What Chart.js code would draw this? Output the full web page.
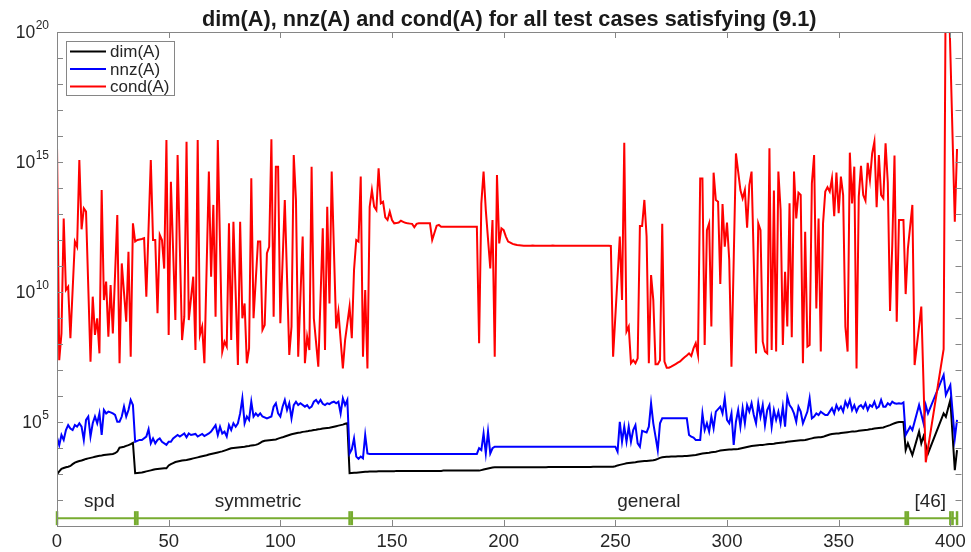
<!DOCTYPE html>
<html lang="en">
<head>
<meta charset="UTF-8">
<title>dim(A), nnz(A) and cond(A)</title>
<script src="https://cdn.jsdelivr.net/npm/chart.js"></script>
<style>
  html, body { margin: 0; padding: 0; background: #fff; }
</style>
</head>
<body>
<canvas id="chart" width="971" height="552"></canvas>
<script>
// log10 of each quantity, one entry per test case (index 0..403).
// null = no separate vertex visible, the line runs straight through.
const condLog = [
  /*0*/   15.65, 7.38, 8.41, 12.83, 10.08, 10.2, 8.22, null, 11.94, 11.74,
  /*10*/  15.08, 12.41, 13.22, 13.09, null, 7.32, 9.82, 8.35, 8.99, 7.64,
  /*20*/  13.92, 9.69, 10.4, 8.28, 10.27, 8.41, null, 12.96, 7.26, 11.1,
  /*30*/  null, 8.86, 11.55, 7.51, 12.64, 11.94, 12.0, 12.02, 12.04, 12.07,
  /*40*/  9.82, null, 15.08, 12.0, 12.0, 9.18, 12.2, 12.0, 10.9, 15.85,
  /*50*/  8.35, 14.24, null, 8.92, 15.27, null, 8.15, 9.05, 15.78, 8.92,
  /*60*/  null, 10.59, 7.77, 15.85, 8.35, 8.67, 7.26, null, 14.63, 10.59,
  /*70*/  13.35, 9.05, 15.85, null, 7.71, 8.09, 7.9, 12.64, 8.15, 12.7,
  /*80*/  null, 7.19, 12.7, 8.99, 9.56, 7.26, 7.83, 14.37, 8.99, null,
  /*90*/  11.94, 11.94, 8.54, 8.73, 11.49, 11.74, 15.87, 9.05, 14.82, 14.82,
  /*100*/ 8.8, null, 13.54, null, 7.58, 8.67, 15.27, 13.54, 7.51, null,
  /*110*/ 12.13, 7.26, 8.28, 7.77, 14.82, 8.99, null, 7.13, null, 12.45,
  /*120*/ 7.77, 13.28, 9.56, 14.63, null, 8.6, 9.24, null, 7.06, 8.15,
  /*130*/ null, 9.44, 8.22, 10.85, 12.0, 11.94, 14.44, 7.51, 10.08, 7.06,
  /*140*/ 13.28, 13.92, 13.28, 13.15, 14.76, 13.41, 13.47, 12.87, 12.77, 13.09,
  /*150*/ 12.77, 12.64, 12.65, 12.67, 12.74, 12.7, 12.66, 12.64, 12.63, 12.62,
  /*160*/ 12.49, 12.62, 12.64, 12.64, 12.64, 12.64, 12.64, 12.64, 12.0, null,
  /*170*/ 12.55, 12.58, 12.51, 12.51, 12.51, 12.51, 12.51, 12.51, 12.51, 12.51,
  /*180*/ 12.51, 12.51, 12.51, 12.51, 12.51, 12.51, 12.51, 12.51, 12.51, 8.03,
  /*190*/ 13.41, 14.63, 13.15, null, 10.91, 12.77, 7.51, 14.5, 11.87, 12.45,
  /*200*/ 12.38, 12.13, 11.94, 11.9, 11.85, 11.83, 11.81, 11.8, 11.79, 11.78,
  /*210*/ 11.78, 11.78, 11.78, 11.79, 11.78, 11.78, 11.78, 11.78, 11.78, 11.78,
  /*220*/ 11.78, 11.78, 11.79, 11.78, 11.78, 11.78, 11.78, 11.78, 11.78, 11.78,
  /*230*/ 11.78, 11.78, 11.78, 11.78, 11.78, 11.78, 11.78, 11.78, 11.78, 11.78,
  /*240*/ 11.78, 11.78, 11.78, 11.78, 11.78, 11.78, 11.78, 11.78, 11.77, 7.51,
  /*250*/ null, null, 12.13, 9.69, 15.74, 8.48, 8.67, 7.26, 7.38, 7.26,
  /*260*/ 7.45, 12.54, 12.54, 13.54, 12.13, 7.26, 10.65, 9.69, 7.22, 7.22,
  /*270*/ 7.38, 12.62, 7.32, 7.09, 7.09, 7.13, 7.18, 7.23, 7.28, 7.33,
  /*280*/ 7.41, 7.49, 7.56, 7.64, 7.54, 7.83, 8.03, 7.58, 14.37, 14.37,
  /*290*/ 7.96, 12.38, 12.64, 8.67, 14.59, 13.54, 13.47, 10.31, 13.38, 11.74,
  /*300*/ 12.67, 11.23, 7.13, null, 15.33, 14.63, 13.92, 13.6, 13.92, 12.47,
  /*310*/ 14.12, 14.63, null, 7.64, 12.64, 12.38, 8.09, 7.71, 7.64, 15.53,
  /*320*/ 7.77, 13.9, 7.71, 14.63, 13.15, 7.96, 10.78, 8.67, 13.41, 8.26,
  /*330*/ 14.63, 12.83, 13.82, 13.73, 7.26, 12.32, 7.9, 7.96, 14.18, 15.27,
  /*340*/ 9.37, 12.83, 7.71, 12.64, 13.86, 14.03, 13.86, 14.37, 12.92, 14.59,
  /*350*/ 13.03, 14.44, 13.73, 8.67, 7.71, 15.36, 13.41, 14.82, 7.06, 13.67,
  /*360*/ 14.85, 13.73, 13.51, 14.97, 14.31, 15.33, 15.78, 13.26, 15.27, 13.73,
  /*370*/ 13.6, 15.72, 14.2, 9.27, 11.8, 15.25, 8.86, 12.77, 12.77, 12.77,
  /*380*/ 9.92, 11.68, null, 13.35, 7.19, null, null, 9.44, null, 3.45,
  /*390*/ null, null, null, null, null, null, null, 7.8, 23, 22.5,
  /*400*/ null, null, 12.7, 15.5
];

const nnzLog = [
  /*0*/   4.41, 4.11, 4.5, 4.31, 4.69, 4.88, 4.75, 4.69, 4.88, 4.82,
  /*10*/  4.95, 4.82, 4.31, 5.08, 5.21, 4.44, 4.95, 5.21, 4.95, 5.33,
  /*20*/  4.5, 5.46, 5.33, 5.4, 5.37, 5.33, 5.27, 5.01, 5.01, 5.21,
  /*30*/  5.59, 5.21, 5.46, 5.85, 5.65, 4.24, null, 4.31, 4.31, null,
  /*40*/  4.44, 4.72, 4.18, 4.37, 4.18, 4.31, 4.37, 4.24, null, 4.12,
  /*50*/  4.24, 4.24, 4.37, null, 4.5, 4.44, null, 4.56, 4.41, 4.56,
  /*60*/  4.5, null, 4.54, 4.44, null, 4.54, 4.46, null, 4.56, 4.63,
  /*70*/  null, 4.88, 4.5, 4.82, 4.56, 4.63, 4.44, 4.88, 4.69, 4.95,
  /*80*/  4.82, 4.95, 5.33, 5.91, 4.95, 5.21, 5.08, 5.78, 5.21, 5.33,
  /*90*/  5.23, 5.33, 5.21, null, 5.14, null, 5.21, 5.59, 5.72, 5.33,
  /*100*/ 5.21, 5.59, 5.85, 5.46, 5.72, 5.14, 5.65, 5.78, 5.65, 5.72,
  /*110*/ null, 5.59, 5.65, 5.53, 5.59, 5.78, 5.85, 5.72, 5.85, 5.7,
  /*120*/ 5.65, 5.72, 5.69, 5.75, 5.78, 5.72, 5.78, 5.33, 5.91, 5.65,
  /*130*/ 5.85, 3.79, 3.95, 4.37, 3.67, 3.58, 3.67, 3.6, 4.5, 3.79,
  /*140*/ 3.77, 3.77, 3.77, 3.77, 3.77, 3.77, 3.77, 3.77, 3.77, 3.77,
  /*150*/ 3.77, 3.77, 3.77, 3.77, 3.77, 3.77, 3.77, 3.77, 3.77, 3.77,
  /*160*/ 3.77, 3.77, 3.77, 3.77, 3.77, 3.77, 3.77, 3.77, 3.77, 3.77,
  /*170*/ 3.77, 3.77, 3.77, 3.77, 3.77, 3.77, 3.77, 3.77, 3.77, 3.77,
  /*180*/ 3.77, 3.77, 3.77, 3.77, 3.77, 3.77, 3.77, 3.77, 3.77, 3.99,
  /*190*/ 3.92, 4.56, 3.79, 4.63, 3.79, 3.99, 4.05, 4.05, 4.05, 4.05,
  /*200*/ 4.05, 4.05, 4.05, 4.05, 4.05, 4.05, 4.05, 4.05, 4.05, 4.05,
  /*210*/ 4.05, 4.05, 4.05, 4.05, 4.05, 4.05, 4.05, 4.05, 4.05, 4.05,
  /*220*/ 4.05, 4.05, 4.05, 4.05, 4.05, 4.05, 4.05, 4.05, 4.05, 4.05,
  /*230*/ 4.05, 4.05, 4.05, 4.05, 4.05, 4.05, 4.05, 4.05, 4.05, 4.05,
  /*240*/ 4.05, 4.05, 4.05, 4.05, 4.05, 4.05, 4.05, 4.05, 4.05, 4.05,
  /*250*/ 4.05, 3.86, 5.01, 4.24, 4.82, 4.24, 4.82, 4.24, 4.69, 4.88,
  /*260*/ 4.18, 4.05, 4.66, null, 4.6, 4.82, 5.72, 4.95, 4.44, 3.92,
  /*270*/ 4.95, 5.14, 5.14, 5.14, 5.14, 5.14, 5.14, 5.14, 5.14, 5.14,
  /*280*/ 5.14, 5.14, 5.14, 4.5, 4.44, 4.4, 4.31, 4.31, 4.31, 5.33,
  /*290*/ 4.69, 4.95, 4.63, 5.21, 4.76, 5.4, null, 5.59, 5.33, 5.91,
  /*300*/ 5.08, 4.95, 5.33, 4.12, 5.01, 5.46, 4.82, 5.53, 4.95, 5.65,
  /*310*/ 5.4, 5.72, 5.27, 4.95, 5.72, 5.21, 5.65, 4.88, 5.46, 5.65,
  /*320*/ 4.82, 5.46, 5.08, 5.4, 4.95, 5.59, 4.82, 5.97, 5.65, 5.53,
  /*330*/ 5.33, 5.01, 5.59, 5.4, 4.95, null, 5.4, 5.91, 5.14, 5.21,
  /*340*/ 5.33, 5.27, 5.4, 5.33, 5.27, 5.27, 5.4, 5.53, 5.33, 5.65,
  /*350*/ 5.46, 5.59, 5.4, 5.78, 5.59, 5.85, 5.46, 5.65, 5.4, 5.59,
  /*360*/ 5.65, 5.53, 5.72, 5.46, 5.65, 5.59, 5.78, 5.53, 5.59, 5.85,
  /*370*/ 5.59, 5.59, 5.72, 5.65, 5.78, 5.72, 5.7, 5.72, 5.7, 5.75,
  /*380*/ 4.5, null, 4.82, 4.69, null, null, 5.65, null, 4.95, 5.65,
  /*390*/ 5.33, null, null, null, null, null, null, 6.81, 6.04, null,
  /*400*/ 6.42, null, 4.37, 5.08
];

const dimLog = [
  /*0*/   2.99, 3.1, 3.2, 3.23, 3.26, 3.28, 3.31, 3.38, 3.44, 3.47,
  /*10*/  3.5, 3.52, 3.55, 3.58, 3.6, 3.62, 3.64, 3.66, 3.68, 3.7,
  /*20*/  3.71, 3.73, 3.74, 3.75, 3.76, 3.77, 3.8, 3.86, 4.01, 4.03,
  /*30*/  4.05, 4.08, 4.11, 4.15, 4.2, 3.03, 3.04, 3.05, 3.06, 3.08,
  /*40*/  3.1, 3.12, 3.14, 3.16, 3.18, 3.19, 3.2, 3.21, 3.22, 3.22,
  /*50*/  3.33, 3.38, 3.42, 3.46, 3.48, 3.5, 3.52, 3.53, 3.54, 3.56,
  /*60*/  3.58, 3.6, 3.62, 3.64, 3.66, 3.68, 3.7, 3.72, 3.75, 3.77,
  /*70*/  3.79, 3.81, 3.83, 3.85, 3.87, 3.9, 3.93, 3.96, 3.99, 4.0,
  /*80*/  4.01, 4.02, 4.03, 4.04, 4.05, 4.07, 4.08, 4.1, 4.11, 4.12,
  /*90*/  4.15, 4.2, 4.25, 4.28, 4.29, 4.3, 4.31, 4.32, 4.33, 4.36,
  /*100*/ 4.39, 4.41, 4.44, 4.47, 4.5, 4.53, 4.55, 4.57, 4.59, 4.6,
  /*110*/ 4.62, 4.63, 4.64, 4.66, 4.67, 4.69, 4.7, 4.72, 4.73, 4.75,
  /*120*/ 4.76, 4.77, 4.78, 4.8, 4.82, 4.84, 4.86, 4.88, 4.9, 4.93,
  /*130*/ 4.95, 3.03, 3.04, 3.05, 3.05, 3.06, 3.07, 3.08, 3.09, 3.09,
  /*140*/ 3.1, 3.1, 3.1, 3.1, 3.11, 3.11, 3.11, 3.11, 3.11, 3.11,
  /*150*/ 3.11, 3.11, 3.12, 3.12, 3.12, 3.12, 3.12, 3.12, 3.12, 3.12,
  /*160*/ 3.12, 3.12, 3.12, 3.12, 3.12, 3.12, 3.12, 3.12, 3.12, 3.12,
  /*170*/ 3.12, 3.12, 3.12, 3.13, 3.13, 3.13, 3.13, 3.13, 3.13, 3.13,
  /*180*/ 3.13, 3.13, 3.13, 3.13, 3.13, 3.13, 3.13, 3.13, 3.13, 3.13,
  /*190*/ 3.15, 3.17, 3.19, 3.21, 3.23, 3.25, 3.26, 3.26, 3.26, 3.26,
  /*200*/ 3.26, 3.26, 3.26, 3.26, 3.26, 3.26, 3.26, 3.26, 3.26, 3.26,
  /*210*/ 3.26, 3.26, 3.26, 3.26, 3.26, 3.26, 3.26, 3.26, 3.26, 3.26,
  /*220*/ 3.27, 3.27, 3.27, 3.27, 3.27, 3.27, 3.27, 3.27, 3.27, 3.27,
  /*230*/ 3.27, 3.27, 3.27, 3.27, 3.27, 3.27, 3.27, 3.27, 3.27, 3.27,
  /*240*/ 3.28, 3.28, 3.28, 3.28, 3.28, 3.28, 3.28, 3.28, 3.28, 3.28,
  /*250*/ 3.3, 3.33, 3.35, 3.37, 3.39, 3.41, 3.42, 3.43, 3.44, 3.45,
  /*260*/ 3.47, 3.48, 3.49, 3.5, 3.5, 3.51, 3.52, 3.53, 3.55, 3.58,
  /*270*/ 3.62, 3.64, 3.65, 3.66, 3.66, 3.67, 3.67, 3.67, 3.68, 3.68,
  /*280*/ 3.68, 3.69, 3.69, 3.7, 3.71, 3.72, 3.73, 3.75, 3.77, 3.79,
  /*290*/ 3.8, 3.81, 3.82, 3.84, 3.85, 3.86, 3.88, 3.9, 3.91, 3.92,
  /*300*/ 3.93, 3.94, 3.94, 3.95, 3.95, 3.96, 3.98, 4.0, 4.02, 4.04,
  /*310*/ 4.06, 4.08, 4.09, 4.1, 4.11, 4.12, 4.12, 4.13, 4.14, 4.15,
  /*320*/ 4.15, 4.16, 4.18, 4.19, 4.2, 4.21, 4.22, 4.24, 4.25, 4.26,
  /*330*/ 4.27, 4.28, 4.29, 4.3, 4.3, 4.31, 4.33, 4.35, 4.37, 4.39,
  /*340*/ 4.4, 4.41, 4.41, 4.43, 4.46, 4.49, 4.52, 4.54, 4.55, 4.56,
  /*350*/ 4.56, 4.58, 4.59, 4.6, 4.61, 4.62, 4.63, 4.63, 4.64, 4.66,
  /*360*/ 4.67, 4.68, 4.69, 4.7, 4.72, 4.73, 4.75, 4.76, 4.77, 4.78,
  /*370*/ 4.79, 4.82, 4.85, 4.88, 4.92, 4.95, 4.98, 5.0, 5.0, 5.0,
  /*380*/ 3.92, 4.18, null, 3.73, null, null, 4.63, 4.18, 4.45, null,
  /*390*/ 3.79, null, null, null, null, null, null, 5.33, 5.2, null,
  /*400*/ 5.85, null, 3.15, 3.92
];

// test-case groups: first/last case of each block, and the group captions
const groupBounds = [0, 35, 36, 131, 132, 380, 381, 400, 401, 403];
const groupNames = ['spd', 'symmetric', 'general', '[46]'];
const groupLabelX = [19, 90, 265, 391];
const groupLevel = 20;

const xTickValues = [0, 50, 100, 150, 200, 250, 300, 350, 400];
const yTickExps = [1, 2, 3, 4, 5, 6, 7, 8, 9, 10, 11, 12, 13, 14, 15, 16, 17, 18, 19, 20];
const yLabelExps = [5, 10, 15, 20];

const FONT = "'Liberation Sans', Arial, Helvetica, sans-serif";
const TEXT = '#262626';
const AXIS = '#868686';
const GREEN = '#77ac30';

function toPoints(arr) {
    return arr.map((v, i) => ({ x: i, y: v === null ? null : Math.pow(10, v) }));
}

// box, inward ticks, y labels with exponents, captions, legend, title
const framePlugin = {
    id: 'frame',
    afterDraw(chart) {
        const ctx = chart.ctx;
        const a = chart.chartArea;
        const xs = chart.scales.x, ys = chart.scales.y;
        const tl = 6;
        ctx.save();

        ctx.strokeStyle = AXIS;
        ctx.lineWidth = 1;
        ctx.strokeRect(Math.round(a.left) + 0.5, Math.round(a.top) + 0.5,
            Math.round(a.right - a.left), Math.round(a.bottom - a.top));

        ctx.beginPath();
        xs.ticks.forEach(t => {
            const px = Math.round(xs.getPixelForValue(t.value)) + 0.5;
            ctx.moveTo(px, a.bottom); ctx.lineTo(px, a.bottom - tl);
            ctx.moveTo(px, a.top); ctx.lineTo(px, a.top + tl);
        });
        ys.ticks.forEach(t => {
            const py = Math.round(ys.getPixelForValue(t.value)) + 0.5;
            ctx.moveTo(a.left, py); ctx.lineTo(a.left + tl, py);
            ctx.moveTo(a.right, py); ctx.lineTo(a.right - tl, py);
        });
        ctx.stroke();

        // y labels: 10 with raised exponent
        ctx.fillStyle = TEXT;
        ctx.textBaseline = 'middle';
        yLabelExps.forEach(e => {
            const py = ys.getPixelForValue(Math.pow(10, e));
            const exp = String(e);
            ctx.font = '12px ' + FONT;
            const ew = ctx.measureText(exp).width;
            const right = a.left - 8;
            ctx.textAlign = 'right';
            ctx.fillText(exp, right, py - 6);
            ctx.font = '17.5px ' + FONT;
            ctx.fillText('10', right - ew - 0.5, py + 1);
        });

        // group captions
        ctx.font = '19px ' + FONT;
        ctx.textAlign = 'center';
        ctx.textBaseline = 'alphabetic';
        const capY = ys.getPixelForValue(groupLevel) - 11;
        groupNames.forEach((name, k) => {
            ctx.fillText(name, xs.getPixelForValue(groupLabelX[k]), capY);
        });

        // legend
        const items = chart.data.datasets.filter(d => d.inLegend).sort((p, q) => p.legendRank - q.legendRank);
        const lx = a.left + 9, ly = a.top + 9, lw = 108, lh = 54;
        ctx.fillStyle = '#fff';
        ctx.fillRect(lx, ly, lw, lh);
        ctx.strokeStyle = AXIS;
        ctx.strokeRect(lx + 0.5, ly + 0.5, lw, lh);
        ctx.font = '17px ' + FONT;
        ctx.textAlign = 'left';
        ctx.textBaseline = 'middle';
        items.forEach((d, k) => {
            const cy = ly + 10.5 + k * 17.5;
            ctx.strokeStyle = d.borderColor;
            ctx.lineWidth = 2;
            ctx.beginPath();
            ctx.moveTo(lx + 4, cy); ctx.lineTo(lx + 40, cy);
            ctx.stroke();
            ctx.fillStyle = TEXT;
            ctx.fillText(d.label, lx + 44, cy + 1);
        });

        // title
        ctx.font = 'bold 21.7px ' + FONT;
        ctx.fillStyle = '#1a1a1a';
        ctx.textAlign = 'center';
        ctx.textBaseline = 'alphabetic';
        ctx.fillText('dim(A), nnz(A) and cond(A) for all test cases satisfying (9.1)', (a.left + a.right) / 2, 26);

        ctx.restore();
    }
};

const lineStyle = { pointRadius: 0, borderWidth: 2, tension: 0, spanGaps: true, fill: false };

new Chart(document.getElementById('chart'), {
    type: 'line',
    data: {
        datasets: [
            Object.assign({ label: 'cond(A)', data: toPoints(condLog), borderColor: '#ff0000', order: 1, inLegend: true, legendRank: 3 }, lineStyle),
            Object.assign({ label: 'nnz(A)', data: toPoints(nnzLog), borderColor: '#0000ff', order: 2, inLegend: true, legendRank: 2 }, lineStyle),
            Object.assign({ label: 'dim(A)', data: toPoints(dimLog), borderColor: '#000000', order: 3, inLegend: true, legendRank: 1 }, lineStyle),
            {
                label: 'groups',
                data: [groupBounds[0], groupBounds[groupBounds.length - 1]].map(x => ({ x, y: groupLevel })),
                borderColor: GREEN, borderWidth: 2, pointRadius: 0, order: 4
            },
            {
                label: 'group bounds',
                data: groupBounds.map(x => ({ x, y: groupLevel })),
                showLine: false, pointStyle: 'line', rotation: 90, pointRadius: 7,
                pointBorderWidth: 2.5, borderColor: GREEN, backgroundColor: GREEN, order: 4, clip: false
            }
        ]
    },
    options: {
        responsive: false,
        animation: false,
        events: [],
        layout: { padding: { top: 32, right: 7, left: 0, bottom: 0 } },
        plugins: { legend: { display: false }, tooltip: { enabled: false }, title: { display: false } },
        scales: {
            x: {
                type: 'linear', min: 0, max: 405,
                afterBuildTicks: s => { s.ticks = xTickValues.map(v => ({ value: v })); },
                ticks: { font: { family: FONT, size: 18.5 }, color: TEXT, padding: 5, maxRotation: 0, autoSkip: false },
                grid: { display: false, drawTicks: false, tickLength: 0 },
                border: { display: false },
                afterFit: s => { s.height = 26; s.paddingLeft = 0; s.paddingRight = 0; }
            },
            y: {
                type: 'logarithmic', min: 10, max: 1e20,
                afterBuildTicks: s => { s.ticks = yTickExps.map(e => ({ value: Math.pow(10, e) })); },
                ticks: { display: false },
                grid: { display: false, drawTicks: false, tickLength: 0 },
                border: { display: false },
                afterFit: s => { s.width = 57; }
            }
        }
    },
    plugins: [framePlugin]
});
</script>
</body>
</html>
